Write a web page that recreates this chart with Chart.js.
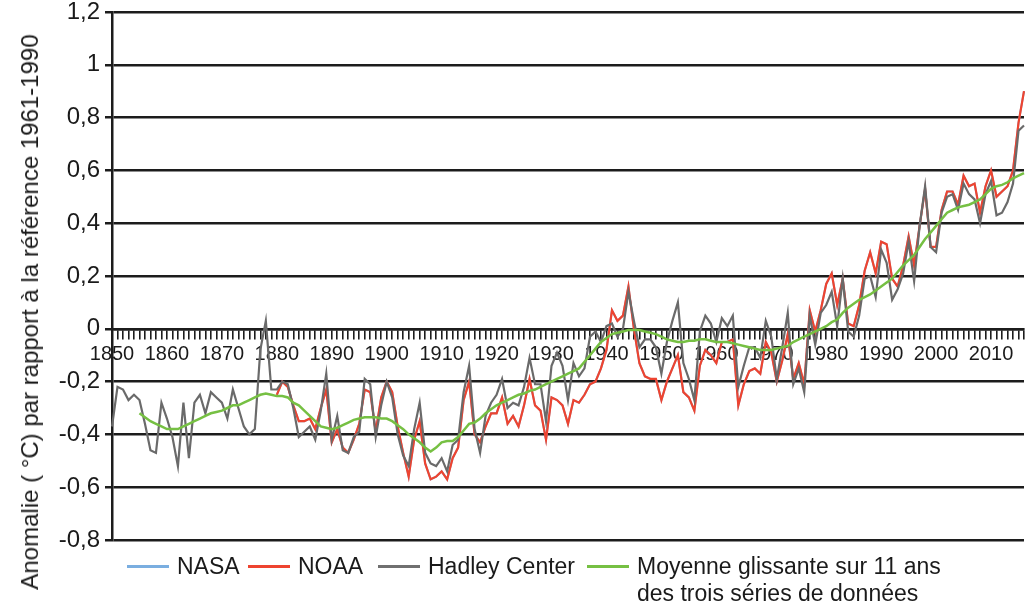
<!DOCTYPE html>
<html lang="fr">
<head>
<meta charset="utf-8">
<title>Anomalie de température globale 1850-2016</title>
<script src="https://cdn.jsdelivr.net/npm/chart.js@4.4.1/dist/chart.umd.min.js"></script>
<style>
    html, body { margin: 0; padding: 0; background: #ffffff; }
    body {
        position: relative;
        width: 1029px;
        height: 607px;
        overflow: hidden;
        font-family: "Liberation Sans", Arial, Helvetica, sans-serif;
        color: #1a1a1a;
    }
    /* canvas sits a little higher so the 1,2 line lands near the top edge */
    #chart-wrap { position: absolute; left: 0; top: -5px; width: 1029px; height: 612px; }
    .y-title {
        position: absolute;
        left: 30px;
        top: 312px;
        transform: translate(-50%, -50%) rotate(-90deg);
        font-size: 24px;
        white-space: nowrap;
    }
    .legend-item {
        position: absolute;
        top: 553px;
        display: flex;
        align-items: flex-start;
        font-size: 23px;
        line-height: 27px;
        white-space: nowrap;
    }
    .legend-item .swatch {
        display: inline-block;
        width: 42px;
        height: 3px;
        margin-top: 12px;
        margin-right: 8px;
    }
</style>
</head>
<body>
<div id="chart-wrap"><canvas id="tempChart"></canvas></div>
<div class="y-title">Anomalie ( °C) par rapport à la référence 1961-1990</div>
<div class="legend-item" style="left:127px"><span class="swatch" style="background:#7aaee0"></span><span>NASA</span></div>
<div class="legend-item" style="left:248px"><span class="swatch" style="background:#ee4430"></span><span>NOAA</span></div>
<div class="legend-item" style="left:378px"><span class="swatch" style="background:#707070"></span><span>Hadley Center</span></div>
<div class="legend-item" style="left:587px"><span class="swatch" style="background:#76c043"></span><span>Moyenne glissante sur 11 ans<br>des trois séries de données</span></div>

<script>
/**
 * Anomalies de température globale (°C), 1850-2016
 */

// Years on the category axis
const firstYear = 1850;
const lastYear = 2016;
const years = [];
for (let y = firstYear; y <= lastYear; y++) {
    years.push(String(y));
}

// Labels shown under the axis
const decadeLabels = ['1850', '1860', '1870', '1880', '1890', '1900', '1910', '1920',
    '1930', '1940', '1950', '1960', '1970', '1980', '1990', '2000', '2010'];

// Hadley Center, 1850-2016
const hadley = [
    -0.37, -0.22, -0.23, -0.27, -0.25, -0.27, -0.36, -0.46, -0.47, -0.28,
    -0.34, -0.41, -0.52, -0.28, -0.49, -0.28, -0.25, -0.32, -0.24, -0.26,
    -0.28, -0.34, -0.23, -0.30, -0.37, -0.40, -0.38, -0.08, 0.03, -0.23,
    -0.23, -0.20, -0.21, -0.30, -0.41, -0.39, -0.37, -0.42, -0.31, -0.17,
    -0.42, -0.33, -0.46, -0.47, -0.41, -0.39, -0.19, -0.21, -0.41, -0.29,
    -0.20, -0.26, -0.40, -0.48, -0.52, -0.38, -0.28, -0.47, -0.51, -0.52,
    -0.49, -0.54, -0.44, -0.42, -0.24, -0.14, -0.38, -0.47, -0.33, -0.28,
    -0.25, -0.19, -0.30, -0.28, -0.29, -0.22, -0.11, -0.21, -0.21, -0.35,
    -0.14, -0.09, -0.14, -0.27, -0.13, -0.18, -0.15, -0.03, -0.01, -0.05,
    0.01, 0.02, -0.03, 0.00, 0.14, 0.03, -0.07, -0.04, -0.04, -0.07,
    -0.17, -0.05, 0.03, 0.10, -0.13, -0.19, -0.27, -0.01, 0.05, 0.02,
    -0.05, 0.04, 0.01, 0.05, -0.22, -0.14, -0.07, -0.07, -0.11, 0.03,
    -0.03, -0.19, -0.07, 0.06, -0.21, -0.15, -0.24, 0.05, -0.06, 0.06,
    0.09, 0.14, 0.01, 0.19, -0.01, -0.03, 0.05, 0.19, 0.20, 0.12,
    0.30, 0.25, 0.11, 0.15, 0.21, 0.33, 0.18, 0.39, 0.54, 0.31,
    0.29, 0.44, 0.50, 0.51, 0.45, 0.55, 0.51, 0.49, 0.40, 0.51,
    0.56, 0.43, 0.44, 0.48, 0.55, 0.75, 0.77
];

// NOAA, 1880-2016
const noaaStart = 1880;
const noaa = [
    -0.25, -0.20, -0.22, -0.29, -0.35, -0.35, -0.34, -0.38, -0.30, -0.23,
    -0.43, -0.38, -0.45, -0.47, -0.42, -0.36, -0.23, -0.24, -0.39, -0.26,
    -0.20, -0.24, -0.37, -0.47, -0.56, -0.42, -0.35, -0.51, -0.57, -0.56,
    -0.54, -0.57, -0.49, -0.45, -0.27, -0.20, -0.40, -0.43, -0.37, -0.32,
    -0.32, -0.26, -0.36, -0.33, -0.37, -0.29, -0.19, -0.29, -0.31, -0.42,
    -0.26, -0.27, -0.29, -0.36, -0.27, -0.28, -0.25, -0.21, -0.20, -0.15,
    -0.08, 0.07, 0.03, 0.05, 0.16, 0.00, -0.13, -0.18, -0.19, -0.19,
    -0.27, -0.20, -0.15, -0.10, -0.24, -0.26, -0.31, -0.14, -0.08, -0.10,
    -0.13, -0.05, -0.05, -0.04, -0.29, -0.21, -0.16, -0.15, -0.17, -0.05,
    -0.09, -0.20, -0.12, -0.02, -0.19, -0.13, -0.21, 0.07, -0.01, 0.07,
    0.17, 0.21, 0.09, 0.19, 0.02, 0.01, 0.09, 0.22, 0.29, 0.21,
    0.33, 0.32, 0.19, 0.16, 0.24, 0.35, 0.24, 0.39, 0.53, 0.31,
    0.31, 0.45, 0.52, 0.52, 0.47, 0.58, 0.54, 0.55, 0.44, 0.54,
    0.60, 0.50, 0.52, 0.54, 0.60, 0.78, 0.90
];

// NASA, 1880-2016 (hidden under the NOAA curve in the figure)
const nasaStart = 1880;
const nasa = [
    -0.25, -0.20, -0.22, -0.29, -0.35, -0.35, -0.34, -0.38, -0.30, -0.23,
    -0.43, -0.38, -0.45, -0.47, -0.42, -0.36, -0.23, -0.24, -0.39, -0.26,
    -0.20, -0.24, -0.37, -0.47, -0.56, -0.42, -0.35, -0.51, -0.57, -0.56,
    -0.54, -0.57, -0.49, -0.45, -0.27, -0.20, -0.40, -0.43, -0.37, -0.32,
    -0.32, -0.26, -0.36, -0.33, -0.37, -0.29, -0.19, -0.29, -0.31, -0.42,
    -0.26, -0.27, -0.29, -0.36, -0.27, -0.28, -0.25, -0.21, -0.20, -0.15,
    -0.08, 0.07, 0.03, 0.05, 0.16, 0.00, -0.13, -0.18, -0.19, -0.19,
    -0.27, -0.20, -0.15, -0.10, -0.24, -0.26, -0.31, -0.14, -0.08, -0.10,
    -0.13, -0.05, -0.05, -0.04, -0.29, -0.21, -0.16, -0.15, -0.17, -0.05,
    -0.09, -0.20, -0.12, -0.02, -0.19, -0.13, -0.21, 0.07, -0.01, 0.07,
    0.17, 0.21, 0.09, 0.19, 0.02, 0.01, 0.09, 0.22, 0.29, 0.21,
    0.33, 0.32, 0.19, 0.16, 0.24, 0.35, 0.24, 0.39, 0.53, 0.31,
    0.31, 0.45, 0.52, 0.52, 0.47, 0.58, 0.54, 0.55, 0.44, 0.54,
    0.60, 0.50, 0.52, 0.54, 0.60, 0.78, 0.90
];

// 11-year running mean, 1855-2016
const meanStart = 1855;
const runningMean = [
    -0.32, -0.335, -0.35, -0.36, -0.37, -0.38, -0.38, -0.38, -0.37, -0.36,
    -0.35, -0.34, -0.33, -0.32, -0.315, -0.31, -0.30, -0.29, -0.29, -0.28,
    -0.27, -0.26, -0.25, -0.245, -0.25, -0.255, -0.255, -0.26, -0.28, -0.29,
    -0.31, -0.33, -0.35, -0.37, -0.375, -0.38, -0.375, -0.365, -0.355, -0.345,
    -0.34, -0.335, -0.335, -0.335, -0.34, -0.34, -0.35, -0.365, -0.38, -0.40,
    -0.415, -0.43, -0.45, -0.465, -0.45, -0.43, -0.425, -0.425, -0.41, -0.385,
    -0.36, -0.355, -0.34, -0.32, -0.305, -0.29, -0.28, -0.27, -0.26, -0.25,
    -0.245, -0.235, -0.23, -0.22, -0.21, -0.20, -0.19, -0.18, -0.17, -0.16,
    -0.15, -0.125, -0.10, -0.075, -0.05, -0.035, -0.02, -0.015, -0.01, -0.005,
    -0.005, -0.005, -0.01, -0.015, -0.02, -0.03, -0.04, -0.045, -0.05, -0.05,
    -0.045, -0.045, -0.04, -0.04, -0.045, -0.05, -0.05, -0.05, -0.055, -0.06,
    -0.065, -0.07, -0.075, -0.08, -0.08, -0.08, -0.075, -0.07, -0.065, -0.05,
    -0.04, -0.03, -0.02, -0.01, 0.0, 0.01, 0.025, 0.035, 0.06, 0.08,
    0.095, 0.11, 0.12, 0.13, 0.145, 0.16, 0.175, 0.19, 0.215, 0.24,
    0.26, 0.28, 0.31, 0.34, 0.365, 0.39, 0.415, 0.44, 0.45, 0.46,
    0.465, 0.47, 0.48, 0.49, 0.51, 0.53, 0.54, 0.545, 0.555, 0.57,
    0.58, 0.59
];

/**
 * Put a series that starts later than 1850 on the full year axis
 */
function alignToYears(startYear, values) {
    const lead = new Array(startYear - firstYear).fill(null);
    return lead.concat(values);
}

// Format y ticks the French way: 0,2 instead of 0.2
function frenchNumber(value) {
    const rounded = Math.round(value * 10) / 10;
    return String(rounded).replace('.', ',');
}

const axisColor = '#1c1c1c';
const textColor = '#1a1a1a';

function lineDataset(label, data, color, width) {
    return {
        label: label,
        data: data,
        borderColor: color,
        backgroundColor: color,
        borderWidth: width,
        pointRadius: 0,
        tension: 0,
        fill: false,
        spanGaps: false
    };
}

const ctx = document.getElementById('tempChart').getContext('2d');

// First dataset in the list is drawn on top
const tempChart = new Chart(ctx, {
    type: 'line',
    data: {
        labels: years,
        datasets: [
            lineDataset('Moyenne glissante sur 11 ans des trois séries de données',
                alignToYears(meanStart, runningMean), '#76c043', 2.5),
            lineDataset('Hadley Center', hadley, '#6a6a6a', 2.2),
            lineDataset('NOAA', alignToYears(noaaStart, noaa), '#ee4430', 2.2),
            lineDataset('NASA', alignToYears(nasaStart, nasa), '#7aaee0', 2)
        ]
    },
    options: {
        responsive: true,
        maintainAspectRatio: false,
        animation: false,
        layout: {
            padding: { top: 0, right: 0, bottom: 67, left: 0 }
        },
        plugins: {
            legend: { display: false },
            tooltip: { enabled: false }
        },
        scales: {
            x: {
                type: 'category',
                position: { y: 0 },
                offset: false,
                grid: {
                    drawOnChartArea: false,
                    drawTicks: true,
                    tickLength: 9,
                    color: axisColor,
                    lineWidth: 1.6
                },
                border: { display: true, color: axisColor, width: 2.5 },
                ticks: {
                    autoSkip: false,
                    maxRotation: 0,
                    minRotation: 0,
                    padding: 5,
                    color: textColor,
                    font: { family: '"Liberation Sans", Arial, sans-serif', size: 20 },
                    callback: function(value, index) {
                        const year = years[index];
                        return decadeLabels.includes(year) ? year : '';
                    }
                }
            },
            y: {
                min: -0.8,
                max: 1.2,
                afterFit: function(scale) {
                    scale.width = 112;
                },
                grid: {
                    color: axisColor,
                    lineWidth: 2.5,
                    tickLength: 7
                },
                border: { display: true, color: axisColor, width: 2.5 },
                ticks: {
                    stepSize: 0.2,
                    padding: 5,
                    color: textColor,
                    font: { family: '"Liberation Sans", Arial, sans-serif', size: 24, lineHeight: 1 },
                    callback: function(value) {
                        return frenchNumber(value);
                    }
                }
            }
        }
    }
});
</script>
</body>
</html>
